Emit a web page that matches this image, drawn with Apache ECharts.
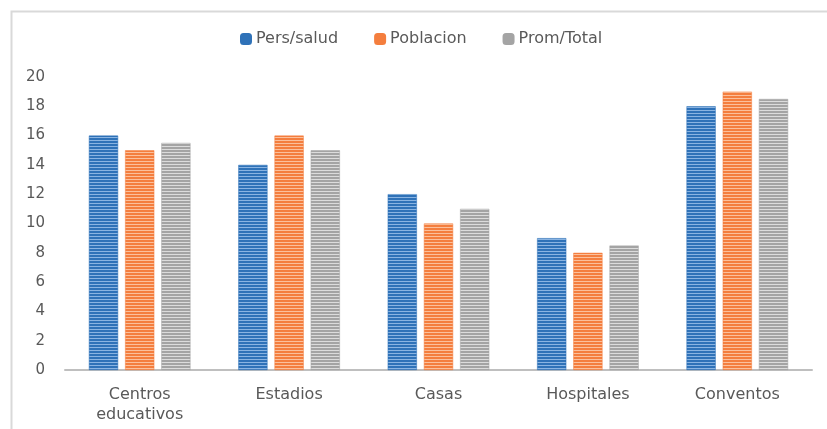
<!DOCTYPE html>
<html><head><meta charset="utf-8">
<script src="https://cdn.jsdelivr.net/npm/echarts@6/dist/echarts.min.js"></script>
<style>html,body{margin:0;padding:0;background:#fff}#c{width:827px;height:429px}</style>
</head><body><div id="c"></div>
<script>
var categories = ['Centros\neducativos', 'Estadios', 'Casas', 'Hospitales', 'Conventos'];
var persSalud = [16, 14, 12, 9, 18];
var poblacion = [15, 16, 10, 8, 19];
var promTotal = [15.5, 15, 11, 8.5, 18.5];
var seriesNames = ['Pers/salud', 'Poblacion', 'Prom/Total'];

function stripe(base, light) {
  var cv = document.createElement('canvas');
  cv.width = 4; cv.height = 3;
  var ctx = cv.getContext('2d');
  ctx.fillStyle = base; ctx.fillRect(0, 0, 4, 3);
  ctx.fillStyle = light; ctx.fillRect(0, 2, 4, 1);
  return {image: cv, repeat: 'repeat'};
}
var cols = [
  {p: stripe('#2f72b8', '#8ab4e2'), s: '#2f72b8'},
  {p: stripe('#f47e3e', '#fbc09c'), s: '#f47e3e'},
  {p: stripe('#a4a4a4', '#dcdcdc'), s: '#a4a4a4'}
];
var chart = echarts.init(document.getElementById('c'));
var data = [persSalud, poblacion, promTotal];
chart.setOption({
  animation: false,
  textStyle: {fontFamily: 'DejaVu Sans, sans-serif'},
  graphic: [
    {type: 'polyline', shape: {points: [[11.5, 440], [11.5, 11.5], [840, 11.5]]},
     style: {stroke: '#d9d9d9', lineWidth: 2, fill: null}}
  ],
  legend: {
    top: 26, left: 235, itemWidth: 10, itemHeight: 10, itemGap: 36,
    textStyle: {color: '#595959', fontSize: 16, fontFamily: 'DejaVu Sans'},
    data: seriesNames.map(function (n, i) { return {name: n, itemStyle: {color: cols[i].s}}; })
  },
  grid: {left: 65, right: 15, top: 77, bottom: 59},
  xAxis: {
    type: 'category', data: categories,
    axisLine: {lineStyle: {color: '#bfbfbf', width: 2}},
    axisTick: {show: false},
    axisLabel: {color: '#595959', fontSize: 16, margin: 15, lineHeight: 20, fontFamily: 'DejaVu Sans'}
  },
  yAxis: {
    type: 'value', min: 0, max: 20, interval: 2,
    axisLine: {show: false}, axisTick: {show: false},
    splitLine: {show: false},
    axisLabel: {color: '#595959', fontSize: 15, margin: 20, fontFamily: 'DejaVu Sans'}
  },
  series: data.map(function (d, i) {
    return {
      name: seriesNames[i], type: 'bar', data: d,
      barGap: '24%', barCategoryGap: '32%',
      itemStyle: {color: cols[i].p, borderColor: cols[i].s, borderWidth: 0.5}
    };
  })
});
</script></body></html>
